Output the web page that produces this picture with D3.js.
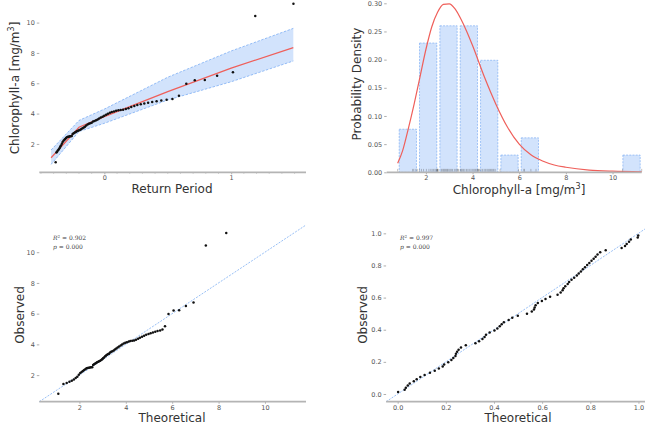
<!DOCTYPE html>
<html>
<head>
<meta charset="utf-8">
<script src="https://cdn.jsdelivr.net/npm/d3@7/dist/d3.min.js"></script>
<style>
  body { margin: 0; background: #fff; }
  svg { display: block; font-family: "DejaVu Sans", sans-serif; }
  .axis-title { font-size: 12px; fill: #333; }
  .note { font-family: "DejaVu Serif", serif; font-size: 6px; fill: #444; }
</style>
</head>
<body>
<svg id="chart" width="645" height="430"></svg>
<script>
// sorted chlorophyll-a sample [mg/m3]
const observed = [
  0.79, 1.43, 1.48, 1.57, 1.63, 1.72, 1.81, 1.90, 2.02, 2.13,
  2.21, 2.27, 2.33, 2.39, 2.44, 2.47, 2.48, 2.50, 2.51, 2.52,
  2.66, 2.70, 2.75, 2.79, 2.83, 2.87, 2.91, 2.94, 2.99, 3.04,
  3.09, 3.14, 3.22, 3.28, 3.33, 3.37, 3.39, 3.48, 3.52, 3.56,
  3.61, 3.67, 3.74, 3.80, 3.86, 3.93, 3.99, 4.05, 4.10, 4.14,
  4.19, 4.22, 4.24, 4.26, 4.30, 4.36, 4.43, 4.50, 4.56, 4.62,
  4.67, 4.72, 4.77, 4.82, 4.87, 4.91, 4.97, 5.18, 5.97, 6.20,
  6.22, 6.50, 6.72, 10.43, 11.25,
];

// return period axis position of each sorted value
const returnPeriod = [
  -0.384, -0.378, -0.373, -0.367, -0.360, -0.354, -0.348, -0.342, -0.335, -0.329,
  -0.322, -0.315, -0.309, -0.302, -0.295, -0.287, -0.280, -0.273, -0.265, -0.257,
  -0.250, -0.242, -0.233, -0.225, -0.217, -0.208, -0.199, -0.190, -0.181, -0.172,
  -0.162, -0.153, -0.143, -0.132, -0.122, -0.111, -0.100, -0.089, -0.077, -0.065,
  -0.053, -0.041, -0.028, -0.014, -0.001, 0.014, 0.028, 0.044, 0.059, 0.076,
  0.093, 0.111, 0.129, 0.148, 0.169, 0.190, 0.212, 0.236, 0.260, 0.287,
  0.315, 0.345, 0.377, 0.412, 0.449, 0.491, 0.537, 0.588, 0.646, 0.713,
  0.792, 0.889, 1.014, 1.190, 1.491,
];

// fitted return level with confidence band
const fitPeriod = [-0.42, -0.2, 0, 0.5, 1.0, 1.49];
const fitLevel = [1.09, 3.10, 3.80, 5.45, 7.00, 8.35];
const fitUpper = [1.60, 3.55, 4.30, 6.40, 8.13, 9.62];
const fitLower = [0.65, 2.82, 3.36, 4.90, 6.10, 7.47];

// fitted probability density
const pdfX = [0.79, 1.0, 1.25, 1.5, 1.75, 2.0, 2.25, 2.5, 2.75, 3.0, 3.25, 3.5, 3.75,
  4.0, 4.5, 5.0, 5.5, 6.0, 6.5, 7.0, 7.5, 8.0, 9.0, 10.0, 11.25];
const pdfY = [0.016, 0.038, 0.078, 0.122, 0.170, 0.218, 0.258, 0.284, 0.298, 0.299, 0.290,
  0.272, 0.250, 0.225, 0.170, 0.121, 0.080, 0.050, 0.031, 0.020, 0.013, 0.009, 0.004, 0.002, 0.001];

// Q-Q theoretical quantiles
const theoretical = [
  1.09, 1.31, 1.45, 1.57, 1.67, 1.76, 1.84, 1.91, 1.975, 2.035,
  2.095, 2.15, 2.205, 2.255, 2.305, 2.355, 2.405, 2.453, 2.50, 2.55,
  2.59, 2.63, 2.68, 2.72, 2.76, 2.81, 2.85, 2.89, 2.94, 2.98,
  3.02, 3.06, 3.11, 3.15, 3.19, 3.24, 3.28, 3.32, 3.37, 3.42,
  3.48, 3.53, 3.59, 3.65, 3.71, 3.78, 3.84, 3.91, 3.98, 4.05,
  4.13, 4.20, 4.28, 4.36, 4.44, 4.53, 4.61, 4.70, 4.79, 4.88,
  4.98, 5.07, 5.17, 5.27, 5.37, 5.48, 5.58, 5.69, 5.84, 6.06,
  6.30, 6.59, 6.92, 7.45, 8.33,
];

// P-P plot
const ppTheoretical = [
  0.002, 0.029, 0.034, 0.042, 0.050, 0.067, 0.079, 0.094, 0.112, 0.134,
  0.154, 0.171, 0.187, 0.193, 0.210, 0.223, 0.231, 0.240, 0.242, 0.247,
  0.253, 0.263, 0.283, 0.323, 0.338, 0.352, 0.361, 0.367, 0.382, 0.402,
  0.414, 0.424, 0.432, 0.441, 0.461, 0.476, 0.499, 0.537, 0.557, 0.566,
  0.569, 0.573, 0.582, 0.599, 0.614, 0.633, 0.664, 0.677, 0.685, 0.689,
  0.696, 0.706, 0.712, 0.722, 0.733, 0.744, 0.752, 0.761, 0.769, 0.778,
  0.787, 0.796, 0.805, 0.814, 0.822, 0.830, 0.841, 0.864, 0.930, 0.944,
  0.951, 0.961, 0.968, 0.997, 0.999,
];
const ppObserved = [
  0.013, 0.026, 0.039, 0.053, 0.066, 0.079, 0.092, 0.105, 0.118, 0.132,
  0.145, 0.158, 0.171, 0.184, 0.197, 0.211, 0.224, 0.237, 0.250, 0.263,
  0.276, 0.289, 0.303, 0.316, 0.329, 0.342, 0.355, 0.368, 0.382, 0.395,
  0.408, 0.421, 0.434, 0.447, 0.461, 0.474, 0.487, 0.500, 0.513, 0.526,
  0.539, 0.553, 0.566, 0.579, 0.592, 0.605, 0.618, 0.632, 0.645, 0.658,
  0.671, 0.684, 0.697, 0.711, 0.724, 0.737, 0.750, 0.763, 0.776, 0.789,
  0.803, 0.816, 0.829, 0.842, 0.855, 0.868, 0.882, 0.895, 0.908, 0.921,
  0.934, 0.947, 0.961, 0.974, 0.987,
];

const qqStats = ['0.902', '0.000'];
const ppStats = ['0.997', '0.000'];

const rpTicks = [0, 1];
const levelTicks = [2, 4, 6, 8, 10];
const densityTicks = [0, 0.05, 0.1, 0.15, 0.2, 0.25, 0.3];
const chlTicks = [2, 4, 6, 8, 10];
const unitTicks = [0, 0.2, 0.4, 0.6, 0.8, 1.0];

const BLUE_FILL = '#d2e3fc';
const BLUE_EDGE = '#6fa5f2';
const RED = '#ef5f5a';

const svg = d3.select('#chart');

function drawAxes({ x, y, xTicks, yTicks, xFormat, yFormat, minor }) {
  const [x0, x1] = x.range();
  const y0 = y.range()[0];

  const gx = svg.append('g')
    .attr('transform', `translate(0,${y0})`)
    .call(d3.axisBottom(x).tickValues(xTicks).tickSize(2).tickPadding(1.5).tickFormat(xFormat));
  const gy = svg.append('g')
    .attr('transform', `translate(${x0},0)`)
    .call(d3.axisLeft(y).tickValues(yTicks).tickSize(2.5).tickPadding(2).tickFormat(yFormat));

  [gx, gy].forEach((g) => {
    g.select('.domain').remove();
    g.attr('font-size', 6.5).attr('font-family', '"DejaVu Sans", sans-serif');
    g.selectAll('.tick line').attr('stroke', '#777').attr('stroke-width', 0.6);
    g.selectAll('.tick text').attr('fill', '#555');
  });

  if (minor) {
    svg.append('g').selectAll('line')
      .data(minor)
      .join('line')
      .attr('x1', (d) => x(d))
      .attr('x2', (d) => x(d))
      .attr('y1', y0)
      .attr('y2', y0 + 1.5)
      .attr('stroke', '#999')
      .attr('stroke-width', 0.5);
  }

  svg.append('line')
    .attr('x1', x0).attr('x2', x1)
    .attr('y1', y0).attr('y2', y0)
    .attr('stroke', '#b4b4b4')
    .attr('stroke-width', 1.8);
}

function axisTitle(text, cx, cy, rotate, sup) {
  const t = svg.append('text')
    .attr('class', 'axis-title')
    .attr('text-anchor', 'middle')
    .attr('transform', `translate(${cx},${cy})${rotate ? ' rotate(-90)' : ''}`);
  if (sup) {
    t.append('tspan').text(text);
    t.append('tspan').text('3').attr('font-size', 8).attr('dy', -5);
    t.append('tspan').text(']').attr('dy', 5);
  } else {
    t.text(text);
  }
}

function statsNote(left, top, stats) {
  const r = svg.append('text').attr('class', 'note').attr('x', left).attr('y', top);
  r.append('tspan').text('R').attr('font-style', 'italic');
  r.append('tspan').text('2').attr('font-size', 4).attr('dy', -2.2);
  r.append('tspan').text(` = ${stats[0]}`).attr('dy', 2.2);
  const p = svg.append('text').attr('class', 'note').attr('x', left).attr('y', top + 8.5);
  p.append('tspan').text('p').attr('font-style', 'italic');
  p.append('tspan').text(` = ${stats[1]}`);
}

function dots(xs, ys, x, y) {
  svg.append('g').selectAll('circle')
    .data(xs.map((d, i) => [d, ys[i]]))
    .join('circle')
    .attr('cx', (d) => x(d[0]))
    .attr('cy', (d) => y(d[1]))
    .attr('r', 1.25)
    .attr('fill', '#111');
}

// ---------- return period ----------
{
  const x = d3.scaleLinear().domain([-0.513, 1.59]).range([39.3, 306]);
  const y = d3.scaleLinear().domain([0.13, 11.8]).range([172.3, -4.7]);
  const fit = fitPeriod.map((d, i) => ({ p: d, v: fitLevel[i], lo: fitLower[i], hi: fitUpper[i] }));

  svg.append('path')
    .datum(fit)
    .attr('d', d3.area().x((d) => x(d.p)).y0((d) => y(d.lo)).y1((d) => y(d.hi)))
    .attr('fill', BLUE_FILL);
  ['lo', 'hi'].forEach((k) => {
    svg.append('path')
      .datum(fit)
      .attr('d', d3.line().x((d) => x(d.p)).y((d) => y(d[k])))
      .attr('fill', 'none')
      .attr('stroke', BLUE_EDGE)
      .attr('stroke-width', 0.7)
      .attr('stroke-dasharray', '2.5,1.5');
  });
  svg.append('path')
    .datum(fit)
    .attr('d', d3.line().x((d) => x(d.p)).y((d) => y(d.v)))
    .attr('fill', 'none')
    .attr('stroke', RED)
    .attr('stroke-width', 1.2);

  dots(returnPeriod, observed, x, y);

  drawAxes({
    x, y, xTicks: rpTicks, yTicks: levelTicks,
    xFormat: d3.format('d'), yFormat: d3.format('d'),
    minor: d3.range(-5, 16).map((d) => d / 10).filter((d) => Math.abs(d % 1) > 1e-6),
  });
  axisTitle('Chlorophyll-a [mg/m', 19, 88, true, true);
  axisTitle('Return Period', 172, 193);
}

// ---------- histogram + pdf ----------
{
  const x = d3.scaleLinear().domain([0.32, 11.25]).range([386.7, 641.7]);
  const y = d3.scaleLinear().domain([0, 0.3]).range([172.3, 3.3]);
  const lo = d3.min(observed);
  const hi = d3.max(observed);
  const w = (hi - lo) / 12;
  const bins = d3.bin()
    .domain([lo, hi])
    .thresholds(d3.range(1, 12).map((k) => lo + k * w))(observed);
  const rw = 0.85;

  svg.append('g').selectAll('rect')
    .data(bins.filter((b) => b.length > 0))
    .join('rect')
    .attr('x', (b) => x(b.x0 + w * (1 - rw) / 2))
    .attr('width', (b) => x(b.x0 + w * (1 + rw) / 2) - x(b.x0 + w * (1 - rw) / 2))
    .attr('y', (b) => y(b.length / (observed.length * w)))
    .attr('height', (b) => y(0) - y(b.length / (observed.length * w)))
    .attr('fill', BLUE_FILL)
    .attr('stroke', BLUE_EDGE)
    .attr('stroke-width', 0.6)
    .attr('stroke-dasharray', '2,1.2');

  svg.append('path')
    .datum(pdfX.map((d, i) => [d, pdfY[i]]))
    .attr('d', d3.line().x((d) => x(d[0])).y((d) => y(d[1])).curve(d3.curveMonotoneX))
    .attr('fill', 'none')
    .attr('stroke', RED)
    .attr('stroke-width', 1.2);

  drawAxes({
    x, y, xTicks: chlTicks, yTicks: densityTicks,
    xFormat: d3.format('d'), yFormat: d3.format('.2f'),
  });

  svg.append('g').selectAll('line')
    .data(observed)
    .join('line')
    .attr('x1', (d) => x(d)).attr('x2', (d) => x(d))
    .attr('y1', y(0) - 0.9).attr('y2', y(0) - 3.4)
    .attr('stroke', '#555')
    .attr('stroke-opacity', 0.6)
    .attr('stroke-width', 0.6);

  axisTitle('Probability Density', 361, 84, true);
  axisTitle('Chlorophyll-a [mg/m', 519, 194, false, true);
}

// ---------- Q-Q ----------
{
  const dom = [0.27, 11.77];
  const x = d3.scaleLinear().domain(dom).range([39.3, 306]);
  const y = d3.scaleLinear().domain(dom).range([401.7, 225]);

  svg.append('line')
    .attr('x1', x(dom[0])).attr('y1', y(dom[0]))
    .attr('x2', x(dom[1])).attr('y2', y(dom[1]))
    .attr('stroke', '#8cb8f4')
    .attr('stroke-width', 0.9)
    .attr('stroke-dasharray', '2,1.3');

  dots(theoretical, observed, x, y);

  drawAxes({
    x, y, xTicks: chlTicks, yTicks: levelTicks,
    xFormat: d3.format('d'), yFormat: d3.format('d'),
  });
  statsNote(53, 240, qqStats);
  axisTitle('Observed', 24, 315, true);
  axisTitle('Theoretical', 172, 422);
}

// ---------- P-P ----------
{
  const dom = [-0.048, 1.05];
  const x = d3.scaleLinear().domain(dom).range([386.1, 650.5]);
  const y = d3.scaleLinear().domain(dom).range([401.7, 225.3]);

  svg.append('line')
    .attr('x1', x(dom[0])).attr('y1', y(dom[0]))
    .attr('x2', x(dom[1])).attr('y2', y(dom[1]))
    .attr('stroke', '#8cb8f4')
    .attr('stroke-width', 0.9)
    .attr('stroke-dasharray', '2,1.3');

  dots(ppTheoretical, ppObserved, x, y);

  drawAxes({
    x, y, xTicks: unitTicks, yTicks: unitTicks,
    xFormat: d3.format('.1f'), yFormat: d3.format('.1f'),
  });
  statsNote(400, 240, ppStats);
  axisTitle('Observed', 367, 315, true);
  axisTitle('Theoretical', 518, 422);
}
</script>
</body>
</html>
